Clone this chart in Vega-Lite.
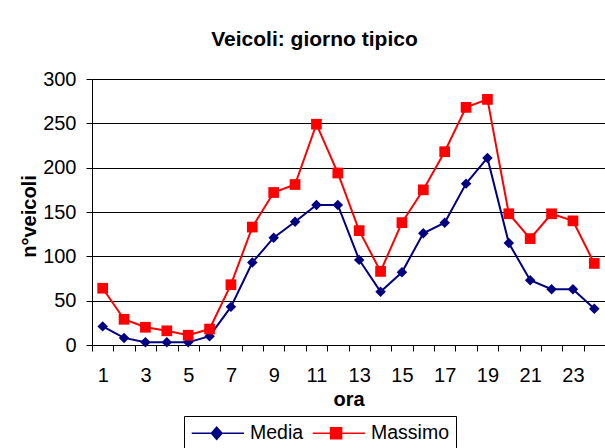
{
  "$schema": "https://vega.github.io/schema/vega-lite/v6.json",
  "width": 513,
  "height": 266,
  "autosize": {"type": "none"},
  "padding": {"left": 92, "top": 79, "right": 0, "bottom": 103},
  "background": "white",
  "title": {
    "text": "Veicoli: giorno tipico",
    "font": "Liberation Sans",
    "fontSize": 21,
    "fontWeight": "bold",
    "color": "black",
    "anchor": "middle",
    "dx": -34,
    "offset": 19
  },
  "data": {
    "values": [
      {"ora": 1, "serie": "Media", "veicoli": 21},
      {"ora": 2, "serie": "Media", "veicoli": 8},
      {"ora": 3, "serie": "Media", "veicoli": 3},
      {"ora": 4, "serie": "Media", "veicoli": 3},
      {"ora": 5, "serie": "Media", "veicoli": 3},
      {"ora": 6, "serie": "Media", "veicoli": 10},
      {"ora": 7, "serie": "Media", "veicoli": 43},
      {"ora": 8, "serie": "Media", "veicoli": 93},
      {"ora": 9, "serie": "Media", "veicoli": 121},
      {"ora": 10, "serie": "Media", "veicoli": 139},
      {"ora": 11, "serie": "Media", "veicoli": 158},
      {"ora": 12, "serie": "Media", "veicoli": 158},
      {"ora": 13, "serie": "Media", "veicoli": 96},
      {"ora": 14, "serie": "Media", "veicoli": 60},
      {"ora": 15, "serie": "Media", "veicoli": 82},
      {"ora": 16, "serie": "Media", "veicoli": 126},
      {"ora": 17, "serie": "Media", "veicoli": 138},
      {"ora": 18, "serie": "Media", "veicoli": 182},
      {"ora": 19, "serie": "Media", "veicoli": 211},
      {"ora": 20, "serie": "Media", "veicoli": 115},
      {"ora": 21, "serie": "Media", "veicoli": 73},
      {"ora": 22, "serie": "Media", "veicoli": 63},
      {"ora": 23, "serie": "Media", "veicoli": 63},
      {"ora": 24, "serie": "Media", "veicoli": 41},
      {"ora": 1, "serie": "Massimo", "veicoli": 64},
      {"ora": 2, "serie": "Massimo", "veicoli": 29},
      {"ora": 3, "serie": "Massimo", "veicoli": 20},
      {"ora": 4, "serie": "Massimo", "veicoli": 16},
      {"ora": 5, "serie": "Massimo", "veicoli": 11},
      {"ora": 6, "serie": "Massimo", "veicoli": 18},
      {"ora": 7, "serie": "Massimo", "veicoli": 68},
      {"ora": 8, "serie": "Massimo", "veicoli": 133},
      {"ora": 9, "serie": "Massimo", "veicoli": 172},
      {"ora": 10, "serie": "Massimo", "veicoli": 181},
      {"ora": 11, "serie": "Massimo", "veicoli": 249},
      {"ora": 12, "serie": "Massimo", "veicoli": 194},
      {"ora": 13, "serie": "Massimo", "veicoli": 129},
      {"ora": 14, "serie": "Massimo", "veicoli": 83},
      {"ora": 15, "serie": "Massimo", "veicoli": 138},
      {"ora": 16, "serie": "Massimo", "veicoli": 175},
      {"ora": 17, "serie": "Massimo", "veicoli": 218},
      {"ora": 18, "serie": "Massimo", "veicoli": 268},
      {"ora": 19, "serie": "Massimo", "veicoli": 277},
      {"ora": 20, "serie": "Massimo", "veicoli": 148},
      {"ora": 21, "serie": "Massimo", "veicoli": 120},
      {"ora": 22, "serie": "Massimo", "veicoli": 148},
      {"ora": 23, "serie": "Massimo", "veicoli": 140},
      {"ora": 24, "serie": "Massimo", "veicoli": 92}
    ]
  },
  "encoding": {
    "x": {
      "field": "ora",
      "type": "ordinal",
      "scale": {"type": "band", "paddingInner": 0, "paddingOuter": 0},
      "axis": {
        "title": "ora",
        "tickBand": "extent",
        "tickSize": 6,
        "tickColor": "black",
        "domainColor": "black",
        "labelAngle": 0,
        "labelPadding": 14.5,
        "labelOverlap": false,
        "labelExpr": "datum.value % 2 === 1 ? datum.label : ''",
        "labelFont": "Liberation Sans",
        "labelFontSize": 20,
        "labelColor": "black",
        "titleFont": "Liberation Sans",
        "titleFontSize": 20,
        "titleFontWeight": "bold",
        "titleColor": "black",
        "titleBaseline": "alphabetic",
        "titleY": 60,
        "grid": false
      }
    },
    "y": {
      "field": "veicoli",
      "type": "quantitative",
      "scale": {"domain": [0, 300], "nice": false},
      "axis": {
        "title": "n°veicoli",
        "values": [0, 50, 100, 150, 200, 250, 300],
        "grid": true,
        "gridColor": "black",
        "gridWidth": 1,
        "tickSize": 6,
        "tickColor": "black",
        "domainColor": "black",
        "labelPadding": 10,
        "labelFont": "Liberation Sans",
        "labelFontSize": 20,
        "labelColor": "black",
        "titleFont": "Liberation Sans",
        "titleFontSize": 20,
        "titleFontWeight": "bold",
        "titleColor": "black",
        "titleBaseline": "alphabetic",
        "titleAlign": "center",
        "titleX": -57,
        "titleY": 137
      }
    },
    "color": {
      "field": "serie",
      "type": "nominal",
      "scale": {"domain": ["Media", "Massimo"], "range": ["#000080", "#ff0000"]},
      "legend": {
        "orient": "none",
        "legendX": 92,
        "legendY": 337,
        "direction": "horizontal",
        "title": null,
        "padding": 6,
        "strokeColor": "black",
        "fillColor": "white",
        "cornerRadius": 0,
        "symbolSize": 400,
        "symbolStrokeWidth": 1.5,
        "labelOffset": 38,
        "columnPadding": 5,
        "labelFont": "Liberation Sans",
        "labelFontSize": 19.5,
        "labelColor": "black",
        "encoding": {
          "symbols": {
            "shape": {"condition": {"test": "datum.value === 'Media'", "value": "M-0.93,0H4.3M1.57,-0.6L2.1,0L1.57,0.6L1.04,0Z"}, "value": "M-0.93,0H4.3M0.86,-0.55H1.96V0.55H0.86Z"},
            "fill": {"condition": {"test": "datum.value === 'Media'", "value": "#000080"}, "value": "#ff0000"},
            "stroke": {"condition": {"test": "datum.value === 'Media'", "value": "#000080"}, "value": "#ff0000"},
            "strokeWidth": {"value": 1.5},
            "size": {"value": 400},
            "opacity": {"value": 1}
          }
        }
      }
    }
  },
  "layer": [
    {"mark": {"type": "line", "strokeWidth": 2}},
    {
      "transform": [{"filter": "datum.serie === 'Media'"}],
      "mark": {"type": "point", "filled": true, "opacity": 1, "strokeWidth": 0, "shape": "diamond", "size": 110}
    },
    {
      "transform": [{"filter": "datum.serie === 'Massimo'"}],
      "mark": {"type": "point", "filled": true, "opacity": 1, "strokeWidth": 0, "shape": "square", "size": 115}
    }
  ],
  "config": {
    "view": {"stroke": null},
    "font": "Liberation Sans"
  }
}
